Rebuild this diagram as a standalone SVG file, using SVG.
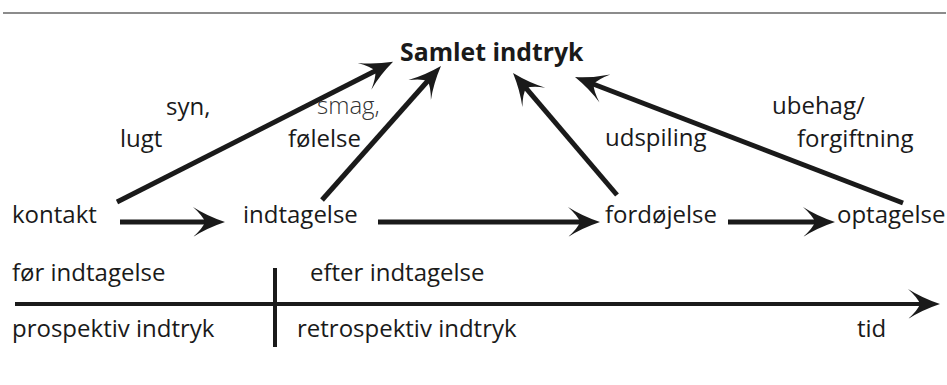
<svg xmlns="http://www.w3.org/2000/svg" width="947" height="385" viewBox="0 0 947 385">
<style>
text{font-family:"Open Sans","Noto Sans","DejaVu Sans",sans-serif;font-size:24px;fill:#1a1a1a}
.title{font-weight:bold;font-size:24.8px}
.light{font-weight:300;fill:#333}
.arr{stroke:#1a1a1a;stroke-width:5;fill:none;marker-end:url(#head)}
.axis{stroke:#1a1a1a;stroke-width:4;fill:none}
</style>
<defs>
<marker id="head" viewBox="-34 -16 36 32" refX="-18" refY="0" markerWidth="36" markerHeight="32" orient="auto" markerUnits="userSpaceOnUse">
<path d="M0,0 Q-18,-6 -32,-15 Q-22,-6 -20,0 Q-22,6 -32,15 Q-18,6 0,0 Z" fill="#1a1a1a"/>
</marker>
</defs>
<rect width="947" height="385" fill="#fff"/>
<line x1="3" y1="13" x2="946" y2="13" stroke="#666" stroke-width="1.5"/>

<g id="samlet"><text class="title" x="400" y="61">Samlet indtryk</text></g>
<g id="kontakt"><text x="12" y="223">kontakt</text></g>
<g id="indtagelse"><text x="243" y="223">indtagelse</text></g>
<g id="fordoejelse"><text x="605" y="223">fordøjelse</text></g>
<g id="optagelse"><text x="837" y="223">optagelse</text></g>

<g id="connectors">
<line class="arr" x1="120" y1="222" x2="207" y2="222"/>
<line class="arr" x1="378" y1="222" x2="582" y2="222"/>
<line class="arr" x1="728" y1="222" x2="817" y2="222"/>
<line class="arr" x1="117" y1="202" x2="377" y2="70"/>
<line class="arr" x1="322" y1="200" x2="429" y2="79.5"/>
<line class="arr" x1="617" y1="195" x2="524.7" y2="86.7"/>
<line class="arr" x1="903" y1="203" x2="591.8" y2="83.5"/>
</g>

<g id="edge-labels">
<text x="166" y="115">syn,</text>
<text x="120" y="147">lugt</text>
<text class="light" x="317" y="114">smag,</text>
<text x="288" y="147">følelse</text>
<text x="605" y="146">udspiling</text>
<text x="772" y="114">ubehag/</text>
<text x="797" y="147">forgiftning</text>
</g>

<g id="timeline">
<line class="axis" x1="15" y1="304" x2="922" y2="304" marker-end="url(#head)"/>
<line class="axis" x1="275" y1="268" x2="275" y2="347"/>
<text x="12" y="281">før indtagelse</text>
<text x="310" y="281">efter indtagelse</text>
<text x="12" y="337">prospektiv indtryk</text>
<text x="297" y="337">retrospektiv indtryk</text>
<text x="857" y="337">tid</text>
</g>
</svg>
